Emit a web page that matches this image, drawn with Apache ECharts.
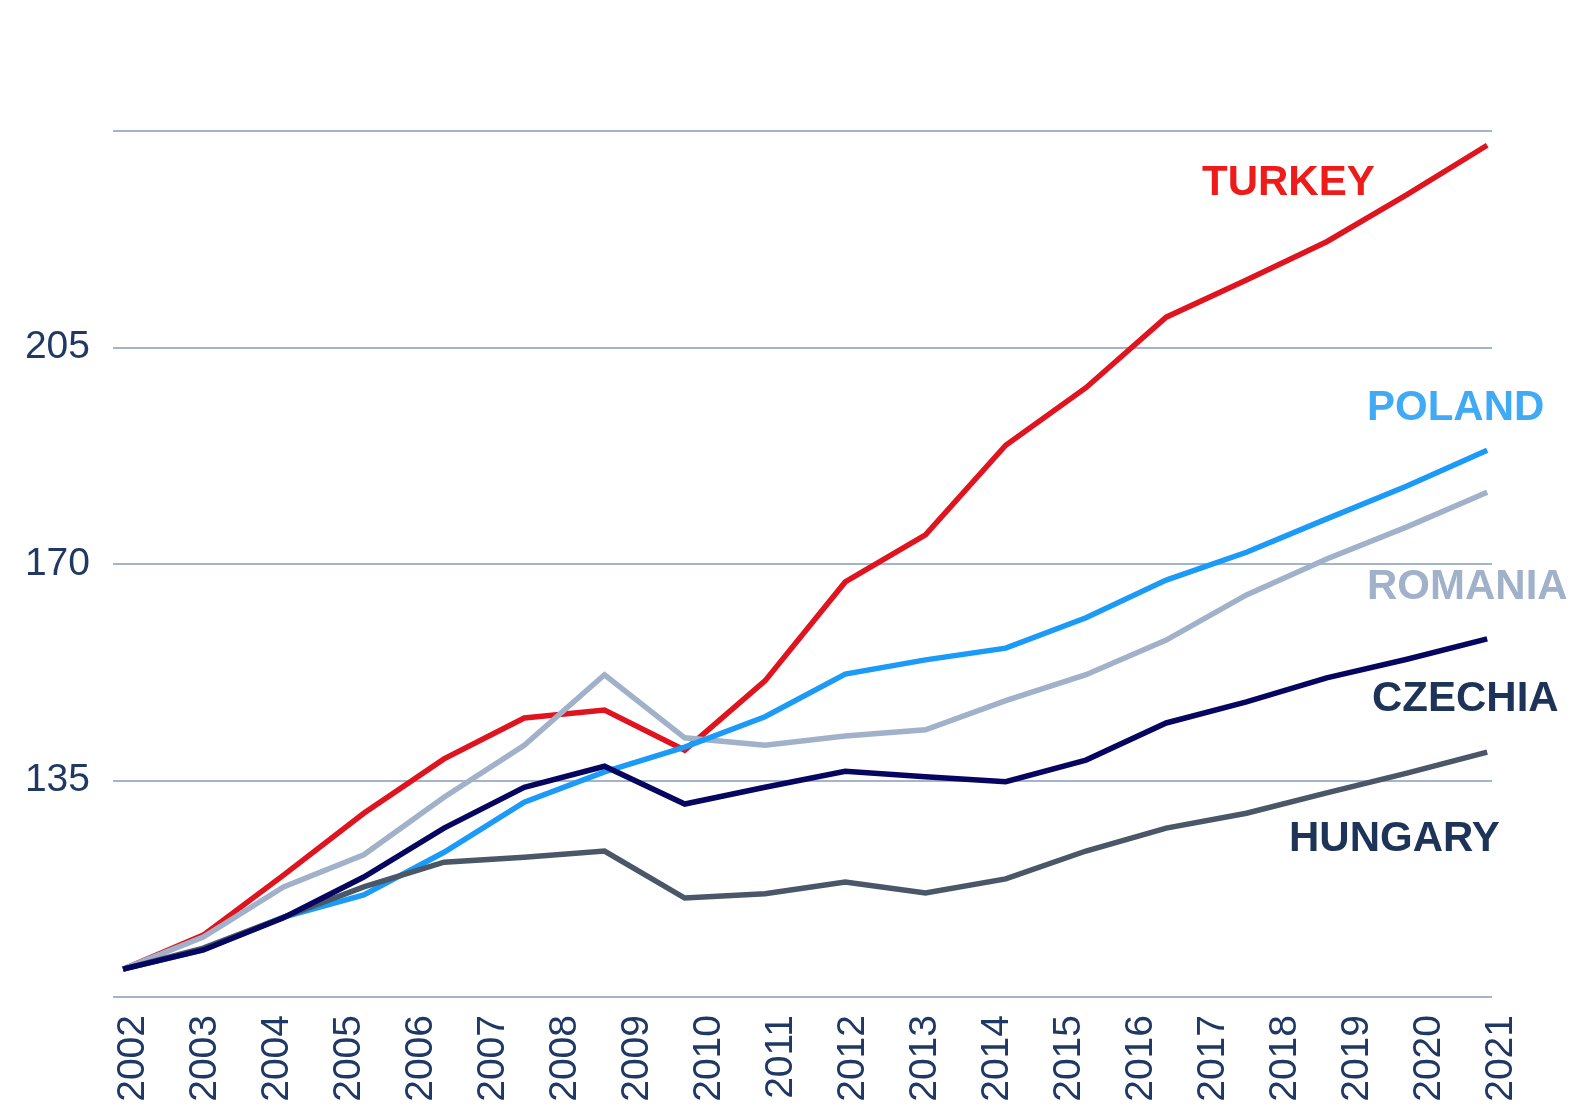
<!DOCTYPE html>
<html>
<head>
<meta charset="utf-8">
<script src="https://cdn.jsdelivr.net/npm/echarts@6/dist/echarts.min.js"></script>
<style>
  html, body { margin: 0; padding: 0; background: #fff; }
  #chart { width: 1570px; height: 1106px; }
</style>
</head>
<body>
<div id="chart"></div>
<script>
// year labels on the axis (20) - the plotted series only have 18 points
var years = ["2002", "2003", "2004", "2005", "2006", "2007", "2008", "2009", "2010", "2011",
  "2012", "2013", "2014", "2015", "2016", "2017", "2018", "2019", "2020", "2021"];

var turkey = [104.5, 110.0, 119.7, 129.7, 138.5, 145.1, 146.4, 139.9, 151.1, 167.1,
  174.7, 189.2, 198.5, 209.9, 215.9, 222.1, 229.7, 237.7];
var poland = [104.5, 107.6, 112.9, 116.5, 123.4, 131.5, 136.4, 140.4, 145.3, 152.2,
  154.5, 156.4, 161.3, 167.4, 171.9, 177.3, 182.6, 188.4];
var romania = [104.5, 109.7, 117.8, 123.0, 132.3, 140.7, 152.1, 141.9, 140.7, 142.2,
  143.2, 147.9, 152.1, 157.7, 165.0, 170.8, 176.0, 181.6];
var czechia = [104.5, 107.6, 112.8, 119.4, 127.3, 133.9, 137.3, 131.2, 133.9, 136.5,
  135.6, 134.8, 138.3, 144.3, 147.7, 151.6, 154.6, 157.9];
var hungary = [104.5, 107.9, 112.9, 117.8, 121.8, 122.6, 123.6, 116.0, 116.7, 118.6,
  116.8, 119.1, 123.6, 127.3, 129.7, 133.0, 136.2, 139.6];

var yTicks = [100, 135, 170, 205, 240];

var navy = "#1f3864";
var gridColor = "#a3b4cb";

function pts(arr) {
  return arr.map(function (v, i) { return [i, v]; });
}

function line(name, data, color) {
  return {
    name: name,
    type: "line",
    xAxisIndex: 0,
    yAxisIndex: 0,
    data: pts(data),
    symbol: "none",
    lineStyle: { color: color, width: 5.5, cap: "butt", join: "miter" },
    animation: false
  };
}

function tag(text, x, y, color) {
  return {
    type: "text",
    left: x,
    top: y,
    style: {
      text: text,
      fill: color,
      font: "bold 42px 'Liberation Sans', Arial, sans-serif"
    }
  };
}

var chart = echarts.init(document.getElementById("chart"));
chart.setOption({
  backgroundColor: "#fff",
  animation: false,
  grid: [
    // plot area
    { left: 113, right: 78, top: 131, bottom: 109 },
    // year labels sit a bit to the right of the data points
    { left: 133.5, right: 68.5, top: 131, bottom: 109 }
  ],
  xAxis: [
    {
      type: "value",
      gridIndex: 0,
      min: -0.125,
      max: 17.06,
      axisLine: { show: false },
      axisTick: { show: false },
      axisLabel: { show: false },
      splitLine: { show: false }
    },
    {
      type: "category",
      gridIndex: 1,
      data: years,
      boundaryGap: false,
      axisLine: { show: false },
      axisTick: { show: false },
      splitLine: { show: false },
      axisLabel: {
        rotate: 90,
        margin: 18,
        interval: 0,
        color: navy,
        fontSize: 39,
        fontFamily: "'Liberation Sans', Arial, sans-serif"
      }
    }
  ],
  yAxis: [
    {
      type: "value",
      gridIndex: 0,
      min: yTicks[0],
      max: yTicks[yTicks.length - 1],
      interval: 35,
      axisLine: { show: false },
      axisTick: { show: false },
      splitLine: { lineStyle: { color: gridColor, width: 2 } },
      axisLabel: {
        margin: 23,
        color: navy,
        fontSize: 39,
        fontFamily: "'Liberation Sans', Arial, sans-serif",
        formatter: function (v) {
          return (v === yTicks[0] || v === yTicks[yTicks.length - 1]) ? "" : v;
        }
      }
    },
    {
      type: "value",
      gridIndex: 1,
      show: false
    }
  ],
  series: [
    line("Turkey", turkey, "#e0141e"),
    line("Romania", romania, "#a0b1c9"),
    line("Poland", poland, "#1b9bf7"),
    line("Hungary", hungary, "#4a5768"),
    line("Czechia", czechia, "#060660")
  ],
  graphic: [
    tag("TURKEY", 1202, 162, "#ee1b1b"),
    tag("POLAND", 1367, 387, "#40aaf5"),
    tag("ROMANIA", 1367, 566, "#a0b1c9"),
    tag("CZECHIA", 1372, 678, "#1d3358"),
    tag("HUNGARY", 1289, 818, "#1d3358")
  ]
});
</script>
</body>
</html>
